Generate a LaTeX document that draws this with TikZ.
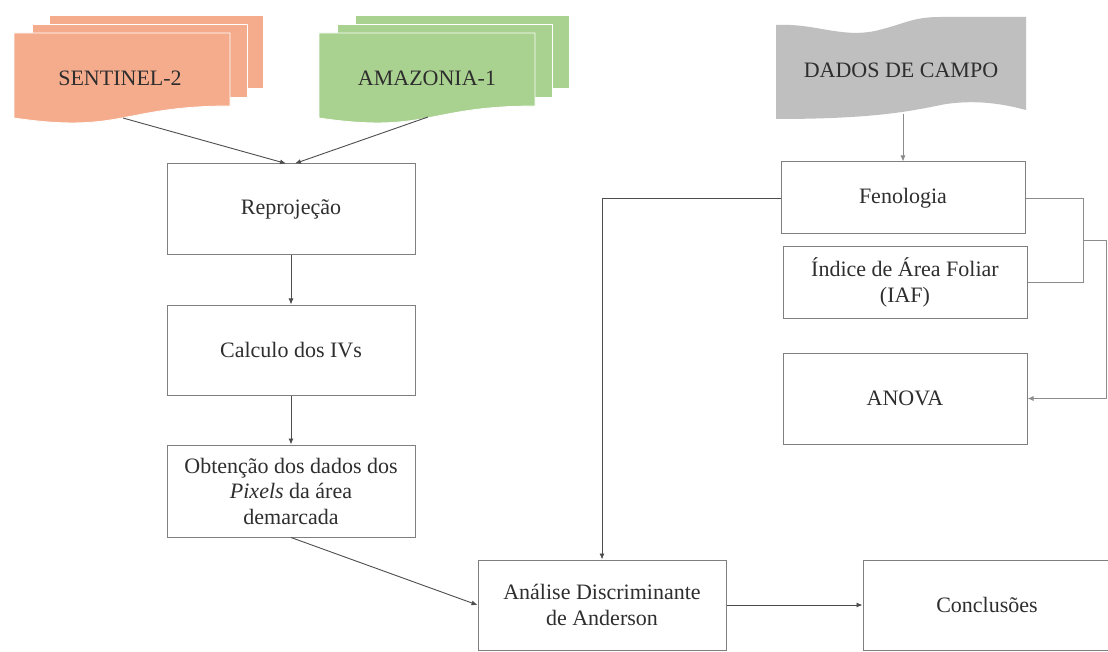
\documentclass[tikz,border=0pt]{standalone}
\usepackage{fontspec}
\setmainfont{LiberationSerif}[Extension=.ttf, UprightFont=*-Regular, ItalicFont=*-Italic, BoldFont=*-Bold]
\newfontfamily\tnr{LiberationSerif}[Extension=.ttf, UprightFont=*-Regular, ItalicFont=*-Italic, BoldFont=*-Bold]
\usetikzlibrary{arrows.meta}
\definecolor{salF}{HTML}{F5AC8D}
\definecolor{grnF}{HTML}{A9D18F}
\definecolor{gryF}{HTML}{BFBFBF}
\definecolor{boxgray}{HTML}{7F7F7F}
\definecolor{linegray}{HTML}{4D4D4D}
\definecolor{lightline}{HTML}{8C8C8C}
\definecolor{txt}{HTML}{2E2E2E}
\begin{document}
\begin{tikzpicture}[x=1pt,y=-1pt,
  box/.style={draw=boxgray, line width=1pt, fill=white, minimum width=248pt, text=txt,
    font=\tnr\fontsize{22}{25.5}\selectfont, align=center, inner sep=2pt},
  conn/.style={draw=linegray, line width=0.9pt},
  lconn/.style={draw=lightline, line width=0.9pt},
  arr/.style={conn, -{Latex[length=6pt,width=5pt]}},
  larr/.style={lconn, -{Latex[length=6pt,width=5pt]}},
  lab/.style={text=txt, font=\tnr\fontsize{22}{25.5}\selectfont},
  page/.style={draw=white, line width=0.8pt}]
\fill[white] (0,0) rectangle (1108,652);
\path[use as bounding box] (0,0) rectangle (1108,652);
\clip (0,0) rectangle (1108,652);

% SENTINEL-2 stack
\fill[page, fill=salF] (49,15) rectangle (263,88);
\fill[page, fill=salF] (32,24) rectangle (247,97);
\fill[page, fill=salF] (14,33) -- (230,33) -- (230,106)
  .. controls (122,106) and (122,134) .. (14,118) -- cycle;
\node[lab] (s2) at (120,78) {SENTINEL-2};
\coordinate (s2b) at (123,118);

% AMAZONIA-1 stack
\fill[page, fill=grnF] (355,15) rectangle (569,88);
\fill[page, fill=grnF] (337,24) rectangle (552,97);
\fill[page, fill=grnF] (319,33) -- (535,33) -- (535,106)
  .. controls (427,106) and (427,134) .. (319,118) -- cycle;
\node[lab] (am) at (427,78) {AMAZONIA-1};
\coordinate (amb) at (428,117);

% DADOS DE CAMPO (tape)
\fill[gryF] (776,25) .. controls (815,23) and (840,38) .. (875,31)
  .. controls (905,24) and (912,17) .. (940,17) -- (1026,17) -- (1026,110)
  .. controls (1000,103) and (975,100) .. (946,104)
  .. controls (915,110) and (880,119) .. (776,119) -- cycle;
\node[lab] (dc) at (901,70) {DADOS DE CAMPO};
\coordinate (dcb) at (903,114);

% Left column
\node[box, minimum height=91pt] (repro) at (291,209.5) {Reprojeção};
\node[box, minimum height=90pt] (calc) at (291,350) {Calculo dos IVs};
\node[box, minimum height=92pt] (obt) at (291,491) {Obtenção dos dados dos\\\textit{Pixels} da área\\demarcada};

% Bottom row
\node[box, minimum height=90pt] (anal) at (602,605) {Análise Discriminante\\de Anderson};
\node[box, minimum height=90pt] (concl) at (987,605) {Conclusões};

% Right column
\node[box, minimum width=244pt, minimum height=72pt] (feno) at (903,198) {Fenologia};
\node[box, minimum width=244pt, minimum height=71pt] (iaf) at (905,282.5) {Índice de Área Foliar\\(IAF)};
\node[box, minimum width=244pt, minimum height=91pt] (anova) at (905,398.5) {ANOVA};

% connectors
\draw[arr] (s2b) -- ([xshift=-5pt]repro.north);
\draw[arr] (amb) -- ([xshift=4pt]repro.north);
\draw[arr] (repro) -- (calc);
\draw[arr] (calc) -- (obt);
\draw[arr] (obt.south) -- (anal.west);
\draw[arr] (anal) -- (concl);
\draw[larr] (dcb) -- (feno.north);
\draw[arr] (feno.west) -| (anal.north);

\coordinate (j1) at (1083,240);
\coordinate (j2) at (1106,240);
\draw[lconn] (feno.east) -| (j1) |- (iaf.east);
\draw[larr] (j1) -- (j2) |- (anova.east);
\end{tikzpicture}
\end{document}
